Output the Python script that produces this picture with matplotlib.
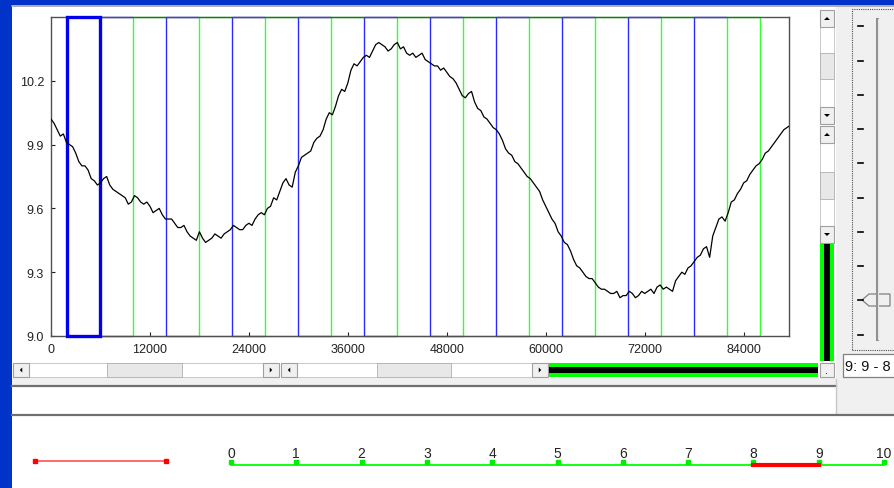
import numpy as np
import matplotlib
matplotlib.use("Agg")
import matplotlib.pyplot as plt
from matplotlib.patches import Rectangle, Polygon
from matplotlib.lines import Line2D

plt.rcParams['font.family'] = ['Liberation Sans', 'DejaVu Sans']

# ---------------- data ----------------
signal = [10.02, 10.00, 9.97, 9.94, 9.95, 9.91, 9.90, 9.89, 9.86, 9.82,
          9.80, 9.80, 9.78, 9.74, 9.73, 9.71, 9.72, 9.74, 9.75, 9.71,
          9.69, 9.68, 9.67, 9.66, 9.65, 9.62, 9.63, 9.66, 9.65, 9.63,
          9.62, 9.63, 9.61, 9.58, 9.59, 9.60, 9.57, 9.55, 9.55, 9.55,
          9.53, 9.51, 9.51, 9.52, 9.49, 9.47, 9.46, 9.45, 9.49, 9.46,
          9.44, 9.45, 9.46, 9.48, 9.47, 9.46, 9.48, 9.49, 9.50, 9.52,
          9.51, 9.50, 9.50, 9.52, 9.53, 9.52, 9.55, 9.57, 9.58, 9.57,
          9.60, 9.61, 9.65, 9.64, 9.68, 9.72, 9.74, 9.71, 9.70, 9.77,
          9.80, 9.84, 9.85, 9.86, 9.87, 9.91, 9.93, 9.94, 9.97, 10.02,
          10.05, 10.04, 10.08, 10.13, 10.16, 10.15, 10.19, 10.25, 10.28, 10.27,
          10.29, 10.31, 10.32, 10.31, 10.34, 10.37, 10.38, 10.37, 10.36, 10.34,
          10.35, 10.37, 10.38, 10.35, 10.36, 10.33, 10.32, 10.33, 10.31, 10.32,
          10.33, 10.30, 10.29, 10.28, 10.27, 10.27, 10.25, 10.26, 10.24, 10.22,
          10.21, 10.19, 10.16, 10.13, 10.12, 10.14, 10.15, 10.10, 10.07, 10.06,
          10.03, 10.02, 10.00, 9.98, 9.97, 9.95, 9.92, 9.88, 9.86, 9.85,
          9.82, 9.81, 9.79, 9.77, 9.75, 9.74, 9.72, 9.70, 9.68, 9.64,
          9.61, 9.58, 9.55, 9.53, 9.49, 9.47, 9.44, 9.43, 9.40, 9.36,
          9.33, 9.32, 9.30, 9.28, 9.27, 9.27, 9.25, 9.23, 9.22, 9.22,
          9.21, 9.20, 9.20, 9.21, 9.18, 9.19, 9.19, 9.21, 9.20, 9.18,
          9.19, 9.21, 9.20, 9.21, 9.22, 9.20, 9.23, 9.24, 9.22, 9.23,
          9.22, 9.21, 9.26, 9.28, 9.30, 9.29, 9.32, 9.33, 9.35, 9.37,
          9.38, 9.41, 9.42, 9.37, 9.47, 9.51, 9.55, 9.56, 9.54, 9.58,
          9.63, 9.64, 9.67, 9.69, 9.72, 9.73, 9.76, 9.78, 9.80, 9.81,
          9.83, 9.86, 9.87, 9.89, 9.91, 9.93, 9.95, 9.97, 9.98, 9.99]
sample_step = 375
win_starts = [2000, 6000, 10000, 14000, 18000, 22000, 26000, 30000, 34000, 38000, 42000,
              46000, 50000, 54000, 58000, 62000, 66000, 70000, 74000, 78000, 82000]
win_width = 4000
x_ticks = [0, 12000, 24000, 36000, 48000, 60000, 72000, 84000]
y_ticks = [9.0, 9.3, 9.6, 9.9, 10.2]
scale_labels = ['0', '1', '2', '3', '4', '5', '6', '7', '8', '9', '10']
sel_range = (8, 9)
box_text = "9: 9 - 8"

W, H = 894, 489
BLUE = '#2a2aff'
GREEN = '#33ff33'
fig = plt.figure(figsize=(W / 100, H / 100), dpi=100)
fig.patch.set_facecolor('white')


def box(x0, y0, x1, y1, **kw):
    fig.add_artist(Rectangle((x0 / W, 1 - y1 / H), (x1 - x0) / W, (y1 - y0) / H,
                             transform=fig.transFigure, **kw))


def line(x0, y0, x1, y1, **kw):
    fig.add_artist(Line2D([x0 / W, x1 / W], [1 - y0 / H, 1 - y1 / H],
                          transform=fig.transFigure, **kw))


def tri(cx, cy, d, s=3.0):
    if d == 'up':
        pts = [(cx - s, cy + s / 2), (cx + s, cy + s / 2), (cx, cy - s / 2)]
    elif d == 'down':
        pts = [(cx - s, cy - s / 2), (cx + s, cy - s / 2), (cx, cy + s / 2)]
    elif d == 'left':
        pts = [(cx + s / 2, cy - s), (cx + s / 2, cy + s), (cx - s / 2, cy)]
    else:
        pts = [(cx - s / 2, cy - s), (cx - s / 2, cy + s), (cx + s / 2, cy)]
    fig.add_artist(Polygon([(px / W, 1 - py / H) for px, py in pts], closed=True,
                           transform=fig.transFigure, color='black', lw=0))


def button(x0, y0, x1, y1):
    box(x0, y0, x1, y1, facecolor='#f0f0f0', edgecolor='#a0a0a0', lw=0.8)


# ---------------- window frame ----------------
box(836, 6, 894, 416, facecolor='#f0f0f0', lw=0)
box(12, 379, 836, 386, facecolor='#f0f0f0', lw=0)
box(0, 0, 12, 489, facecolor='#0233c9', lw=0)
box(0, 0, 894, 6, facecolor='#0233c9', lw=0)
line(12, 7, 894, 7, color='#a0a0a0', lw=1.2)
line(12, 386.5, 836, 386.5, color='#707070', lw=1.6)
line(836, 380, 836, 415, color='#c8c8c8', lw=1)
line(12, 415.5, 894, 415.5, color='#707070', lw=1.6)

# ---------------- main plot ----------------
ax = fig.add_axes([51 / W, 1 - 337 / H, 738 / W, 319 / H])
xs = np.arange(len(signal)) * sample_step
y0, y1 = 9.0, 10.5
# window edges: top/bottom segments, then each boundary once in the colour of the later window
for i, x0 in enumerate(win_starts[1:], start=1):
    col = BLUE if i % 2 == 1 else GREEN
    ax.hlines([y0, y1], x0, x0 + win_width, colors=col, lw=1.0, clip_on=False, zorder=2)
    ax.vlines(x0, y0, y1, colors=col, lw=1.0, clip_on=False, zorder=2)
ax.vlines(win_starts[-1] + win_width, y0, y1, colors=GREEN, lw=1.0, clip_on=False, zorder=2)
ax.add_patch(Rectangle((win_starts[0], y0), win_width, y1 - y0, fill=False, edgecolor='#0000ee',
                       lw=2.4, clip_on=False, zorder=3))
ax.plot(xs, signal, color='black', lw=0.9, zorder=4)
ax.set_xlim(0, 89500)
ax.set_ylim(y0, y1)
ax.set_xticks(x_ticks)
ax.set_xticklabels([str(t) for t in x_ticks])
ax.set_yticks(y_ticks)
ax.set_yticklabels(['%.1f' % t for t in y_ticks])
ax.tick_params(direction='in', length=3, width=0.8, labelsize=9, colors='#222222', pad=5)
for s in ax.spines.values():
    s.set_color('#505050')
    s.set_linewidth(1.0)

# ---------------- horizontal scrollbars ----------------
for (a, b, t0, t1) in [(13, 279, 107, 182), (281, 548, 377, 451)]:
    box(a, 364, b, 378, facecolor='white', edgecolor='#c0c0c0', lw=0.6)
    box(t0, 364, t1, 378, facecolor='#e8e8e8', edgecolor='#b0b0b0', lw=0.6)
    button(a, 364, a + 16, 378)
    button(b - 16, 364, b, 378)
    tri(a + 8, 371, 'left', 2.5)
    tri(b - 8, 371, 'right', 2.5)
box(549, 364, 818, 378, facecolor='#00ff00', lw=0)
box(549, 368, 818, 374, facecolor='black', lw=0)

# ---------------- vertical scrollbars ----------------
for (a, b, t0, t1) in [(11, 125, 54, 80), (127, 244, 173, 200)]:
    box(820, a, 834, b, facecolor='white', edgecolor='#c0c0c0', lw=0.6)
    box(820, t0, 834, t1, facecolor='#e8e8e8', edgecolor='#b0b0b0', lw=0.6)
    button(820, a, 834, a + 17)
    button(820, b - 17, 834, b)
    tri(827, a + 8.5, 'up', 3)
    tri(827, b - 8.5, 'down', 3)
box(820, 245, 834, 362, facecolor='#00ff00', lw=0)
box(824, 245, 830, 362, facecolor='black', lw=0)
button(820, 364, 834, 378)
fig.text(827 / W, 1 - 371 / H, '.', ha='center', va='center', fontsize=8, color='black')

# ---------------- right slider panel ----------------
box(852, 10, 900, 351, fill=False, edgecolor='#505050', lw=0.8, ls=(0, (1, 1)))
for py in [27, 62, 96, 130, 164, 199, 233, 267, 301, 336]:
    line(858, py, 863, py, color='black', lw=1.2)
line(877, 20, 877, 340, color='#909090', lw=2.2)
line(878, 20, 878, 340, color='#f8f8f8', lw=0.6)
thumb = [(862, 301), (869, 295), (890, 295), (890, 307), (869, 307)]
fig.add_artist(Polygon([(px / W, 1 - py / H) for px, py in thumb], closed=True,
                       transform=fig.transFigure, facecolor='#f0f0f0', edgecolor='#808080', lw=0.9))
box(843, 355, 900, 378, facecolor='white', edgecolor='#808080', lw=0.9)
fig.text(845 / W, 1 - 367 / H, box_text, ha='left', va='center', fontsize=10.5, color='#111111')

# ---------------- bottom scale ----------------
line(35, 462, 166, 462, color='#ff6060', lw=1.3)
fig.add_artist(Line2D([35 / W, 166 / W], [1 - 462 / H] * 2, transform=fig.transFigure,
                      ls='none', marker='s', ms=3.5, color='red'))
sx0, sx1 = 231, 884
pos = np.linspace(sx0, sx1, len(scale_labels))
line(sx0, 466, sx1, 466, color='#00ff00', lw=1.3)
fig.add_artist(Line2D(pos / W, [1 - 463 / H] * len(pos), transform=fig.transFigure,
                      ls='none', marker='s', ms=3.5, color='#00ee00'))
for p, lab in zip(pos, scale_labels):
    fig.text(p / W, 1 - 454 / H, lab, ha='center', va='center', fontsize=10, color='#222222')
line(pos[sel_range[0]], 466, pos[sel_range[1]], 466, color='red', lw=3)

fig.savefig('out.png', dpi=100)
